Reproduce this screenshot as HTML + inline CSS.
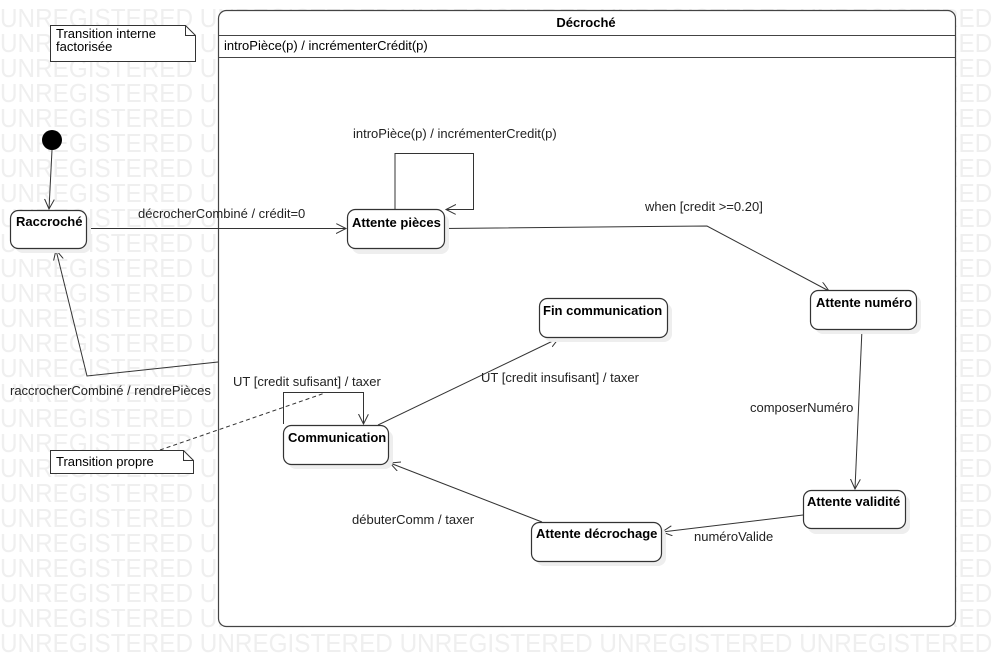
<!DOCTYPE html>
<html><head><meta charset="utf-8"><style>
body{margin:0;width:995px;height:665px;overflow:hidden;background:#fff;font-family:"Liberation Sans",sans-serif}
</style></head><body>
<svg width="995" height="665" xmlns="http://www.w3.org/2000/svg" style="position:absolute;left:0;top:0">
<defs><marker id="a" markerWidth="12" markerHeight="12" refX="10" refY="5" orient="auto" markerUnits="userSpaceOnUse"><path d="M0,0 L10,5 L0,10" fill="none" stroke="#333" stroke-width="1"/></marker></defs>
<g font-family="Liberation Sans,sans-serif" font-size="26" fill="#efefef" transform="scale(0.935,1)">
<text x="0" y="27">UNREGISTERED UNREGISTERED UNREGISTERED UNREGISTERED UNREGISTERED</text>
<text x="0" y="52">UNREGISTERED UNREGISTERED UNREGISTERED UNREGISTERED UNREGISTERED</text>
<text x="0" y="77">UNREGISTERED UNREGISTERED UNREGISTERED UNREGISTERED UNREGISTERED</text>
<text x="0" y="102">UNREGISTERED UNREGISTERED UNREGISTERED UNREGISTERED UNREGISTERED</text>
<text x="0" y="127">UNREGISTERED UNREGISTERED UNREGISTERED UNREGISTERED UNREGISTERED</text>
<text x="0" y="152">UNREGISTERED UNREGISTERED UNREGISTERED UNREGISTERED UNREGISTERED</text>
<text x="0" y="177">UNREGISTERED UNREGISTERED UNREGISTERED UNREGISTERED UNREGISTERED</text>
<text x="0" y="202">UNREGISTERED UNREGISTERED UNREGISTERED UNREGISTERED UNREGISTERED</text>
<text x="0" y="227">UNREGISTERED UNREGISTERED UNREGISTERED UNREGISTERED UNREGISTERED</text>
<text x="0" y="252">UNREGISTERED UNREGISTERED UNREGISTERED UNREGISTERED UNREGISTERED</text>
<text x="0" y="277">UNREGISTERED UNREGISTERED UNREGISTERED UNREGISTERED UNREGISTERED</text>
<text x="0" y="302">UNREGISTERED UNREGISTERED UNREGISTERED UNREGISTERED UNREGISTERED</text>
<text x="0" y="327">UNREGISTERED UNREGISTERED UNREGISTERED UNREGISTERED UNREGISTERED</text>
<text x="0" y="352">UNREGISTERED UNREGISTERED UNREGISTERED UNREGISTERED UNREGISTERED</text>
<text x="0" y="377">UNREGISTERED UNREGISTERED UNREGISTERED UNREGISTERED UNREGISTERED</text>
<text x="0" y="402">UNREGISTERED UNREGISTERED UNREGISTERED UNREGISTERED UNREGISTERED</text>
<text x="0" y="427">UNREGISTERED UNREGISTERED UNREGISTERED UNREGISTERED UNREGISTERED</text>
<text x="0" y="452">UNREGISTERED UNREGISTERED UNREGISTERED UNREGISTERED UNREGISTERED</text>
<text x="0" y="477">UNREGISTERED UNREGISTERED UNREGISTERED UNREGISTERED UNREGISTERED</text>
<text x="0" y="502">UNREGISTERED UNREGISTERED UNREGISTERED UNREGISTERED UNREGISTERED</text>
<text x="0" y="527">UNREGISTERED UNREGISTERED UNREGISTERED UNREGISTERED UNREGISTERED</text>
<text x="0" y="552">UNREGISTERED UNREGISTERED UNREGISTERED UNREGISTERED UNREGISTERED</text>
<text x="0" y="577">UNREGISTERED UNREGISTERED UNREGISTERED UNREGISTERED UNREGISTERED</text>
<text x="0" y="602">UNREGISTERED UNREGISTERED UNREGISTERED UNREGISTERED UNREGISTERED</text>
<text x="0" y="627">UNREGISTERED UNREGISTERED UNREGISTERED UNREGISTERED UNREGISTERED</text>
<text x="0" y="652">UNREGISTERED UNREGISTERED UNREGISTERED UNREGISTERED UNREGISTERED</text>
</g>
<rect x="218.5" y="10.5" width="737" height="616" rx="8" fill="#fff" stroke="#444" stroke-width="1.2"/>
<line x1="218" y1="35.5" x2="955" y2="35.5" stroke="#444"/>
<line x1="218" y1="57.5" x2="955" y2="57.5" stroke="#444"/>
<text x="586" y="27" font-size="13" font-weight="bold" text-anchor="middle">Décroché</text>
<text x="224" y="50" font-size="13">introPièce(p) / incrémenterCrédit(p)</text>
<path d="M50.5,25.5 H185.5 L195.5,35.5 V61.5 H50.5 Z M185.5,25.5 V35.5 H195.5" fill="#fff" stroke="#333"/>
<text x="56" y="38" font-size="13">Transition interne</text>
<text x="56" y="51" font-size="13">factorisée</text>
<path d="M50.5,450.5 H183.5 L193.5,460.5 V473.5 H50.5 Z M183.5,450.5 V460.5 H193.5" fill="#fff" stroke="#333"/>
<text x="56" y="466" font-size="13">Transition propre</text>
<circle cx="52" cy="140" r="10" fill="#000"/>
<g fill="none" stroke="#333" stroke-width="1">
<line x1="52" y1="150" x2="49" y2="209" marker-end="url(#a)"/>
<line x1="86" y1="228.5" x2="346" y2="228.5" marker-end="url(#a)"/>
<polyline points="395,210 395,153.5 473.5,153.5 473.5,209.5 446,209.5" marker-end="url(#a)"/>
<polyline points="444,228.5 707,226 829,291" marker-end="url(#a)"/>
<line x1="862" y1="329" x2="855" y2="489" marker-end="url(#a)"/>
<line x1="803" y1="515" x2="662" y2="532" marker-end="url(#a)"/>
<line x1="542" y1="522" x2="390" y2="463" marker-end="url(#a)"/>
<line x1="378" y1="425" x2="559" y2="338" marker-end="url(#a)"/>
<polyline points="283.5,424 283.5,392.5 363.5,392.5 363.5,424" marker-end="url(#a)"/>
<polyline points="218,362 87,376 56,250" marker-end="url(#a)"/>
<line x1="160" y1="450" x2="325" y2="393" stroke-dasharray="4,3"/>
</g>
<g stroke="#333" stroke-width="1.2">
<g fill="#eee" stroke="none">
<rect x="15" y="215" width="76" height="38" rx="8"/><rect x="352" y="214" width="97" height="40" rx="8"/>
<rect x="815" y="295" width="106" height="39" rx="8"/><rect x="544" y="303" width="128" height="39" rx="8"/>
<rect x="808" y="495" width="102" height="39" rx="8"/><rect x="536" y="527" width="130" height="39" rx="8"/>
<rect x="288" y="430" width="105" height="39" rx="8"/>
</g>
<g fill="#fff">
<rect x="10.5" y="210.5" width="76" height="38" rx="8"/><rect x="347.5" y="209.5" width="97" height="39" rx="8"/>
<rect x="810.5" y="290.5" width="106" height="39" rx="8"/><rect x="539.5" y="298.5" width="128" height="39" rx="8"/>
<rect x="803.5" y="490.5" width="102" height="38" rx="8"/><rect x="531.5" y="522.5" width="130" height="39" rx="8"/>
<rect x="283.5" y="425.5" width="105" height="39" rx="8"/>
</g></g>
<g font-size="13" font-weight="bold" fill="#000">
<text x="16" y="226">Raccroché</text>
<text x="352" y="227">Attente pièces</text>
<text x="816" y="307">Attente numéro</text>
<text x="543" y="315">Fin communication</text>
<text x="807" y="506">Attente validité</text>
<text x="536" y="538">Attente décrochage</text>
<text x="288" y="442">Communication</text>
</g>
<g font-size="13" fill="#222">
<text x="138" y="218">décrocherCombiné / crédit=0</text>
<text x="353" y="138">introPièce(p) / incrémenterCredit(p)</text>
<text x="645" y="211">when [credit &gt;=0.20]</text>
<text x="750" y="412">composerNuméro</text>
<text x="694" y="541">numéroValide</text>
<text x="352" y="524">débuterComm / taxer</text>
<text x="481" y="382">UT [credit insufisant] / taxer</text>
<text x="233" y="386">UT [credit sufisant] / taxer</text>
<text x="10" y="395">raccrocherCombiné / rendrePièces</text>
</g>
</svg>
</body></html>
